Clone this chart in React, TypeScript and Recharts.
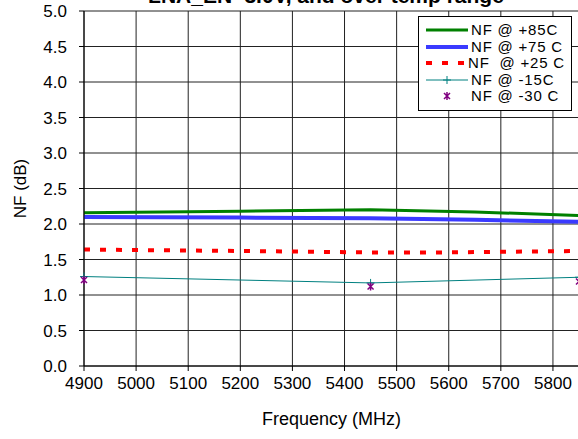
import { LineChart, Line, XAxis, YAxis, CartesianGrid, Legend } from 'recharts'

const freqTicks = [4900, 5000, 5100, 5200, 5300, 5400, 5500, 5600, 5700, 5800]
const freqMinorTicks = [4950, 5050, 5150, 5250, 5350, 5450, 5550, 5650, 5750]
const nfTicks = [0, 0.5, 1, 1.5, 2, 2.5, 3, 3.5, 4, 4.5, 5]
const nfMinorTicks = [
  0.1, 0.2, 0.3, 0.4, 0.6, 0.7, 0.8, 0.9, 1.1, 1.2, 1.3, 1.4, 1.6, 1.7, 1.8, 1.9,
  2.1, 2.2, 2.3, 2.4, 2.6, 2.7, 2.8, 2.9, 3.1, 3.2, 3.3, 3.4, 3.6, 3.7, 3.8, 3.9,
  4.1, 4.2, 4.3, 4.4, 4.6, 4.7, 4.8, 4.9,
]

const freq85 = [4900, 5200, 5450, 5650, 5850]
const nf85 = [2.16, 2.18, 2.2, 2.17, 2.12]
const freq75 = [4900, 5200, 5450, 5650, 5850]
const nf75 = [2.1, 2.09, 2.08, 2.06, 2.03]
const freq25 = [4900, 5200, 5450, 5600, 5850]
const nf25 = [1.64, 1.62, 1.6, 1.6, 1.62]
const freqM15 = [4900, 5450, 5850]
const nfM15 = [1.26, 1.17, 1.25]
const freqM30 = [4900, 5450, 5850]
const nfM30 = [1.21, 1.12, 1.19]

const zip = (f: number[], v: number[]) => f.map((x, i) => ({ f: x, nf: v[i] }))

const FONT = '"Liberation Sans", Arial, sans-serif'

const PlusDot = (p: any) => {
  const { cx, cy } = p
  if (cx == null || cy == null) return <g />
  return <path d={`M${cx - 4},${cy}h8M${cx},${cy - 4}v8`} stroke="#008080" strokeWidth={1} fill="none" />
}

const StarDot = (p: any) => {
  const { cx, cy } = p
  if (cx == null || cy == null) return <g />
  return (
    <path
      d={`M${cx - 3},${cy - 3}L${cx + 3},${cy + 3}M${cx - 3},${cy + 3}L${cx + 3},${cy - 3}M${cx},${cy - 4}v8`}
      stroke="#800080"
      strokeWidth={1.5}
      fill="none"
    />
  )
}

const series = [
  { name: 'NF @ +85C', color: '#008000', width: 3, dash: undefined, marker: null },
  { name: 'NF @ +75 C', color: '#3a3aff', width: 4, dash: undefined, marker: null },
  { name: 'NF  @ +25 C', color: '#ff0000', width: 4, dash: '6 10', marker: null },
  { name: 'NF @ -15C', color: '#008080', width: 1, dash: undefined, marker: 'plus' },
  { name: 'NF @ -30 C', color: '#800080', width: 0, dash: undefined, marker: 'star' },
]

function LegendBox() {
  return (
    <div
      style={{
        background: '#fff',
        border: '1px solid #000',
        padding: '5px 6px 5px 6px',
        fontFamily: FONT,
        fontSize: 15,
        letterSpacing: 0.8,
        lineHeight: '16.5px',
        color: '#000',
      }}
    >
      {series.map(s => (
        <div key={s.name} style={{ display: 'flex', alignItems: 'center', whiteSpace: 'pre', height: 16.5 }}>
          <svg width={46} height={16}>
            {s.width > 0 && (
              <line x1={1} x2={43} y1={8} y2={8} stroke={s.color} strokeWidth={s.width} strokeDasharray={s.dash} />
            )}
            {s.marker === 'plus' && <PlusDot cx={22} cy={8} />}
            {s.marker === 'star' && <StarDot cx={22} cy={8} />}
          </svg>
          <span>{s.name}</span>
        </div>
      ))}
    </div>
  )
}

export default function App() {
  return (
    <div style={{ position: 'absolute', left: 0, top: 0, width: 578, height: 439, overflow: 'hidden', background: '#fff' }}>
      <div
        style={{
          position: 'absolute',
          left: 326,
          top: -16,
          transform: 'translateX(-50%)',
          whiteSpace: 'nowrap',
          fontFamily: FONT,
          fontWeight: 'bold',
          fontSize: 21,
          lineHeight: '24px',
          zIndex: 2,
        }}
      >
        LNA_EN=3.0V, and over temp range
      </div>
      <LineChart width={600} height={439} margin={{ top: 11, right: 21, bottom: 0, left: 0 }} style={{ fontFamily: FONT }}>
        <CartesianGrid stroke="#222" strokeWidth={1} horizontalValues={nfTicks} verticalValues={freqTicks} />
        <XAxis
          xAxisId="minor"
          dataKey="f"
          type="number"
          domain={[4900, 5850]}
          ticks={freqMinorTicks}
          interval={0}
          mirror
          height={0}
          tick={false}
          axisLine={false}
          tickSize={3}
          tickLine={{ stroke: '#000' }}
        />
        <XAxis
          dataKey="f"
          type="number"
          domain={[4900, 5850]}
          ticks={freqTicks}
          interval={0}
          height={73}
          tickSize={5}
          tickMargin={6}
          axisLine={{ stroke: '#000' }}
          tickLine={{ stroke: '#000' }}
          tick={{ fill: '#000', fontSize: 17 }}
          label={{ value: 'Frequency (MHz)', position: 'insideBottom', offset: 14, fill: '#000', fontSize: 18 }}
        />
        <YAxis
          yAxisId="minor"
          type="number"
          domain={[0, 5]}
          ticks={nfMinorTicks}
          interval={0}
          mirror
          width={0}
          tick={false}
          axisLine={false}
          tickSize={3}
          tickLine={{ stroke: '#000' }}
        />
        <YAxis
          type="number"
          domain={[0, 5]}
          ticks={nfTicks}
          interval={0}
          width={84}
          tickSize={5}
          tickMargin={12}
          tickFormatter={(v: number) => v.toFixed(1)}
          axisLine={{ stroke: '#000' }}
          tickLine={{ stroke: '#000' }}
          tick={{ fill: '#000', fontSize: 17 }}
          label={{ value: 'NF (dB)', angle: -90, position: 'insideLeft', dx: 15, fill: '#000', fontSize: 17, style: { textAnchor: 'middle' } }}
        />
        <Legend
          layout="horizontal"
          align="center"
          verticalAlign="middle"
          wrapperStyle={{ top: 16, left: 418, width: 154, height: 'auto' }}
          content={() => <LegendBox />}
        />
        <Line data={zip(freq85, nf85)} dataKey="nf" name={series[0].name} stroke={series[0].color} strokeWidth={3} dot={false} isAnimationActive={false} />
        <Line data={zip(freq75, nf75)} dataKey="nf" name={series[1].name} stroke={series[1].color} strokeWidth={4} dot={false} isAnimationActive={false} />
        <Line data={zip(freq25, nf25)} dataKey="nf" name={series[2].name} stroke={series[2].color} strokeWidth={4} strokeDasharray="6 10" dot={false} isAnimationActive={false} />
        <Line data={zip(freqM15, nfM15)} dataKey="nf" name={series[3].name} stroke={series[3].color} strokeWidth={1} dot={<PlusDot />} isAnimationActive={false} />
        <Line data={zip(freqM30, nfM30)} dataKey="nf" name={series[4].name} stroke="none" dot={<StarDot />} isAnimationActive={false} />
      </LineChart>
    </div>
  )
}
